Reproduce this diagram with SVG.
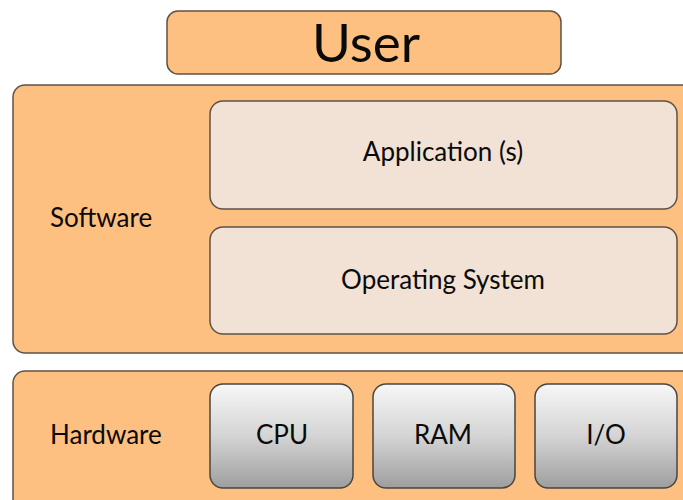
<svg xmlns="http://www.w3.org/2000/svg" width="683" height="500" viewBox="0 0 683 500">
<defs>
<linearGradient id="gray" x1="0" y1="0" x2="0" y2="1">
<stop offset="0" stop-color="#f7f7f7"/>
<stop offset="0.5" stop-color="#d4d4d4"/>
<stop offset="1" stop-color="#9e9e9e"/>
</linearGradient>
<style>
.outer{fill:#fdc081;stroke:#5e5247;stroke-width:1.5}
.inner{fill:#f1e2d5;stroke:#5e5247;stroke-width:1.5}
.chip{fill:url(#gray);stroke:#4a4540;stroke-width:1.5}
text{font-family:Lato,"Open Sans","Liberation Sans",sans-serif;fill:#0a0a0a}
.lbl{font-size:26px}
.mid{text-anchor:middle}
</style>
</defs>
<rect width="683" height="500" fill="#fff"/>
<g id="user">
<rect class="outer" x="167" y="11" width="394" height="63" rx="11"/>
<text class="mid" x="366" y="62" font-size="53">User</text>
</g>
<g id="software">
<rect class="outer" x="13" y="85" width="690" height="268" rx="12"/>
<text class="lbl" x="50" y="227">Software</text>
</g>
<g id="applications">
<rect class="inner" x="210" y="101" width="467" height="108" rx="13"/>
<text class="lbl mid" x="443" y="161">Application (s)</text>
</g>
<g id="os">
<rect class="inner" x="210" y="227" width="467" height="107" rx="13"/>
<text class="lbl mid" x="443" y="289">Operating System</text>
</g>
<g id="hardware">
<rect class="outer" x="13" y="371" width="690" height="150" rx="12"/>
<text class="lbl" x="50" y="444">Hardware</text>
</g>
<g id="cpu">
<rect class="chip" x="210" y="384" width="143" height="104" rx="13"/>
<text class="lbl mid" x="282" y="444">CPU</text>
</g>
<g id="ram">
<rect class="chip" x="373" y="384" width="142" height="104" rx="13"/>
<text class="lbl mid" x="443" y="444">RAM</text>
</g>
<g id="io">
<rect class="chip" x="535" y="384" width="142" height="104" rx="13"/>
<text class="lbl mid" x="606" y="444">I/O</text>
</g>
<g id="connectors"/>
</svg>
